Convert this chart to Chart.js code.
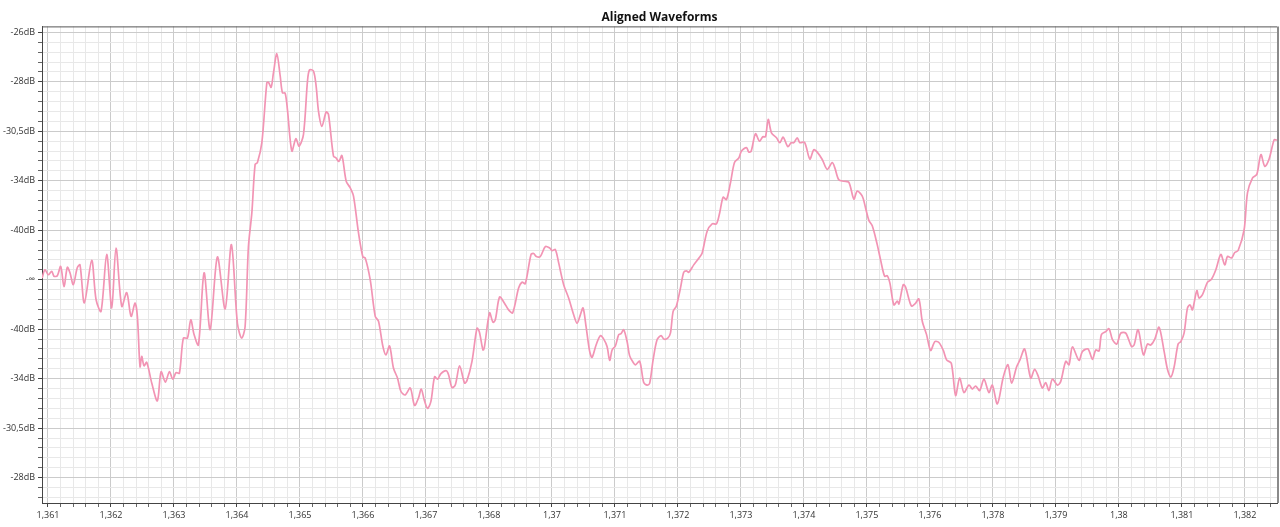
<!DOCTYPE html>
<html>
<head>
<meta charset="utf-8">
<title>Aligned Waveforms</title>
<script src="https://cdn.jsdelivr.net/npm/chart.js@4/dist/chart.umd.min.js"></script>
<style>
  html, body { margin: 0; padding: 0; background: #fff; }
  #wrap { width: 1280px; height: 527px; }
</style>
</head>
<body>
<div id="wrap"><canvas id="myChart"></canvas></div>
<script>
// x tick labels (one per major division, rounded seconds as shown)
const xTickLabels = ["1,361", "1,362", "1,363", "1,364", "1,365", "1,366", "1,367", "1,368", "1,37", "1,371",
  "1,372", "1,373", "1,374", "1,375", "1,376", "1,378", "1,379", "1,38", "1,381", "1,382"];

// y tick labels, amplitude -4 % .. +5 % of full scale
const yTickLabels = ["-28dB", "-30,5dB", "-34dB", "-40dB", "-∞", "-40dB", "-34dB", "-30,5dB", "-28dB", "-26dB"];

// time position, in major x divisions
const waveT = [
  -0.095, -0.048, 0.005, 0.059, 0.095, 0.148, 0.202, 0.254, 0.307, 0.349, 0.402, 0.465, 0.508, 0.577, 0.694,
  0.763, 0.842, 0.932, 1.012, 1.080, 1.171, 1.250, 1.319, 1.382, 1.419, 1.461, 1.488, 1.525, 1.568, 1.647,
  1.736, 1.795, 1.863, 1.927, 1.981, 2.033, 2.086, 2.149, 2.213, 2.267, 2.319, 2.388, 2.478, 2.574, 2.689,
  2.812, 2.912, 3.007, 3.074, 3.129, 3.182, 3.236, 3.288, 3.325, 3.395, 3.474, 3.500, 3.542, 3.579, 3.633,
  3.686, 3.722, 3.765, 3.801, 3.871, 3.935, 3.987, 4.056, 4.119, 4.151, 4.214, 4.257, 4.294, 4.348, 4.416,
  4.453, 4.532, 4.575, 4.618, 4.666, 4.734, 4.797, 4.850, 4.929, 4.999, 5.036, 5.115, 5.195, 5.247, 5.317,
  5.365, 5.422, 5.485, 5.549, 5.603, 5.671, 5.751, 5.819, 5.882, 5.925, 5.973, 6.025, 6.079, 6.137, 6.184,
  6.238, 6.323, 6.359, 6.413, 6.465, 6.534, 6.613, 6.651, 6.731, 6.810, 6.847, 6.905, 6.926, 7.010, 7.064,
  7.101, 7.169, 7.244, 7.312, 7.376, 7.471, 7.525, 7.577, 7.668, 7.709, 7.752, 7.816, 7.895, 7.964, 8.002,
  8.054, 8.107, 8.186, 8.265, 8.345, 8.399, 8.451, 8.494, 8.542, 8.599, 8.637, 8.701, 8.769, 8.822, 8.875,
  8.917, 8.955, 9.007, 9.060, 9.098, 9.139, 9.193, 9.234, 9.288, 9.325, 9.393, 9.457, 9.511, 9.552, 9.606,
  9.670, 9.733, 9.775, 9.838, 9.881, 9.924, 9.976, 10.040, 10.092, 10.135, 10.172, 10.251, 10.346, 10.385, 10.464,
  10.543, 10.612, 10.664, 10.718, 10.770, 10.834, 10.898, 10.966, 11.009, 11.088, 11.125, 11.163, 11.231, 11.295, 11.347,
  11.390, 11.433, 11.485, 11.565, 11.617, 11.671, 11.744, 11.798, 11.840, 11.894, 11.935, 12.010, 12.094, 12.158, 12.211,
  12.291, 12.370, 12.450, 12.491, 12.554, 12.634, 12.713, 12.793, 12.847, 12.926, 12.979, 13.031, 13.085, 13.164, 13.217,
  13.281, 13.323, 13.365, 13.428, 13.482, 13.508, 13.577, 13.614, 13.705, 13.762, 13.825, 13.879, 13.947, 14.011, 14.079,
  14.143, 14.213, 14.265, 14.340, 14.408, 14.472, 14.540, 14.620, 14.674, 14.726, 14.790, 14.858, 14.937, 14.991, 15.071,
  15.166, 15.239, 15.298, 15.377, 15.430, 15.504, 15.600, 15.663, 15.716, 15.785, 15.838, 15.890, 15.944, 16.024, 16.076,
  16.156, 16.208, 16.262, 16.367, 16.421, 16.510, 16.580, 16.632, 16.685, 16.723, 16.791, 16.844, 16.898, 16.966, 17.030,
  17.109, 17.200, 17.241, 17.305, 17.390, 17.454, 17.506, 17.570, 17.638, 17.718, 17.771, 17.824, 17.876, 17.940, 17.983,
  18.035, 18.089, 18.131, 18.168, 18.237, 18.273, 18.327, 18.407, 18.470, 18.539, 18.618, 18.681, 18.724, 18.788, 18.840,
  18.893, 18.988, 19.042, 19.122, 19.190, 19.254, 19.317, 19.385, 19.465, 19.507
];

// amplitude, percent of full scale
const waveAmp = [
  0.03, 0.20, 0.10, 0.17, 0.07, 0.08, 0.27, -0.14, 0.25, 0.14, -0.10, 0.24, 0.30, -0.47, 0.39,
  -0.40, -0.64, 0.51, -0.57, 0.64, -0.54, -0.26, -0.74, -0.47, -0.74, -1.76, -1.55, -1.74, -1.67, -2.09,
  -2.45, -1.86, -2.07, -1.86, -2.01, -1.88, -1.89, -1.18, -1.18, -0.81, -1.11, -1.32, 0.14, -1.01, 0.46,
  -0.59, 0.71, -0.88, -1.18, -0.95, 0.67, 1.35, 2.33, 2.37, 2.77, 3.98, 3.99, 3.89, 4.18, 4.57,
  4.12, 3.78, 3.77, 3.44, 2.60, 2.85, 2.70, 2.94, 4.01, 4.24, 4.22, 3.91, 3.41, 3.10, 3.39,
  3.34, 2.50, 2.46, 2.39, 2.51, 1.99, 1.86, 1.69, 0.95, 0.46, 0.44, 0.00, -0.74, -0.84, -1.35,
  -1.52, -1.34, -1.79, -1.99, -2.26, -2.33, -2.19, -2.54, -2.39, -2.21, -2.43, -2.60, -2.46, -1.96, -2.01,
  -1.90, -1.84, -1.92, -2.18, -2.13, -1.74, -2.09, -2.04, -1.65, -0.98, -1.05, -1.42, -1.38, -0.67, -0.86,
  -0.81, -0.35, -0.47, -0.61, -0.67, -0.17, -0.05, -0.08, 0.51, 0.53, 0.47, 0.47, 0.67, 0.64, 0.59,
  0.61, 0.34, -0.10, -0.37, -0.71, -0.88, -0.71, -0.57, -0.95, -1.45, -1.57, -1.32, -1.13, -1.20, -1.35,
  -1.63, -1.42, -1.34, -1.11, -1.09, -1.01, -1.25, -1.54, -1.67, -1.72, -1.65, -2.08, -2.13, -2.09, -1.62,
  -1.21, -1.13, -1.20, -1.18, -1.08, -0.64, -0.53, -0.17, 0.15, 0.18, 0.15, 0.30, 0.46, 0.54, 0.98,
  1.13, 1.13, 1.36, 1.67, 1.62, 1.96, 2.37, 2.46, 2.60, 2.67, 2.58, 2.60, 2.95, 2.80, 2.89,
  2.89, 3.24, 2.97, 2.87, 2.77, 2.88, 2.69, 2.77, 2.77, 2.87, 2.77, 2.78, 2.44, 2.63, 2.58,
  2.43, 2.23, 2.37, 2.26, 2.02, 1.99, 1.97, 1.63, 1.79, 1.69, 1.45, 1.20, 1.09, 0.71, 0.40,
  0.07, 0.08, -0.07, -0.51, -0.43, -0.49, -0.10, -0.15, -0.53, -0.49, -0.39, -0.84, -1.11, -1.43, -1.25,
  -1.27, -1.43, -1.62, -1.69, -2.34, -1.99, -2.28, -2.13, -2.21, -2.15, -2.24, -2.01, -2.28, -2.13, -2.51,
  -1.96, -1.72, -2.09, -1.76, -1.62, -1.40, -1.99, -1.81, -1.94, -2.19, -2.08, -2.24, -2.01, -2.13, -2.06,
  -1.65, -1.72, -1.36, -1.63, -1.45, -1.40, -1.61, -1.42, -1.44, -1.11, -1.05, -0.99, -1.21, -1.30, -1.08,
  -1.08, -1.35, -1.32, -1.01, -1.52, -1.30, -1.32, -1.20, -0.96, -1.45, -1.81, -1.97, -1.77, -1.30, -1.25,
  -1.08, -0.57, -0.51, -0.61, -0.22, -0.37, -0.30, -0.05, 0.01, 0.20, 0.51, 0.30, 0.47, 0.44, 0.55,
  0.59, 1.01, 1.76, 2.06, 2.13, 2.53, 2.29, 2.44, 2.83, 2.82
];

const points = waveT.map((t, i) => ({ x: t, y: waveAmp[i] }));

const isMajor = (v) => Math.abs(v - Math.round(v)) < 1e-6;

// every major division is split in 5
function minorTicks(scale) {
  const ticks = [];
  const start = Math.ceil(scale.min * 5 - 1e-6);
  const end = Math.floor(scale.max * 5 + 1e-6);
  for (let i = start; i <= end; i++) ticks.push({ value: Math.round(i * 2) / 10 });
  scale.ticks = ticks;
}

const frame = {
  id: 'frame',
  afterDraw(chart) {
    const { ctx, chartArea: a } = chart;
    ctx.save();
    ctx.strokeStyle = '#555';
    ctx.lineWidth = 1;
    ctx.beginPath();
    ctx.moveTo(a.left, a.top + 0.5);
    ctx.lineTo(a.right, a.top + 0.5);
    ctx.stroke();
    ctx.strokeStyle = '#8a8a8a';
    ctx.lineWidth = 2;
    ctx.beginPath();
    ctx.moveTo(a.right + 1, a.top);
    ctx.lineTo(a.right + 1, a.bottom);
    ctx.stroke();
    ctx.restore();
  }
};

const ctx = document.getElementById('myChart');

new Chart(ctx, {
  type: 'line',
  plugins: [frame],
  data: {
    datasets: [{
      label: 'Aligned',
      data: points,
      borderColor: '#f294b4',
      borderWidth: 1.7,
      pointRadius: 0,
      tension: 0.3,
      fill: false,
    }],
  },
  options: {
    responsive: true,
    maintainAspectRatio: false,
    animation: false,
    layout: { padding: { left: 0, right: 3, top: 0, bottom: 0 } },
    plugins: {
      legend: { display: false },
      tooltip: { enabled: false },
      title: {
        display: true,
        text: 'Aligned Waveforms',
        fullSize: false,
        color: '#111',
        font: { family: 'Open Sans', size: 12, weight: 'bold' },
        padding: { top: 10, bottom: 2 },
      },
    },
    scales: {
      x: {
        type: 'linear',
        min: -0.095,
        max: 19.51,
        afterBuildTicks: minorTicks,
        afterFit(scale) { scale.height = 24; },
        border: { color: '#444', width: 1 },
        grid: {
          color: (c) => isMajor(c.tick.value) ? '#cbcbcb' : '#e8e8e8',
          tickColor: (c) => isMajor(c.tick.value) ? '#444' : '#666',
          tickLength: 4,
        },
        ticks: {
          autoSkip: false,
          maxRotation: 0,
          padding: 3,
          color: '#333',
          font: { family: 'Open Sans', size: 9 },
          callback: (v) => isMajor(v) ? (xTickLabels[Math.round(v)] ?? '') : '',
        },
      },
      y: {
        type: 'linear',
        min: -4.514,
        max: 5.121,
        afterBuildTicks: minorTicks,
        afterFit(scale) { scale.width = 42; },
        border: { color: '#444', width: 1 },
        grid: {
          color: (c) => isMajor(c.tick.value) ? '#cbcbcb' : '#e8e8e8',
          tickColor: (c) => isMajor(c.tick.value) ? '#444' : '#666',
          tickLength: 4,
        },
        ticks: {
          autoSkip: false,
          padding: 3,
          color: '#333',
          font: { family: 'Open Sans', size: 9 },
          callback: (v) => isMajor(v) ? (yTickLabels[Math.round(v) + 4] ?? '') : '',
        },
      },
    },
  },
});
</script>
</body>
</html>
